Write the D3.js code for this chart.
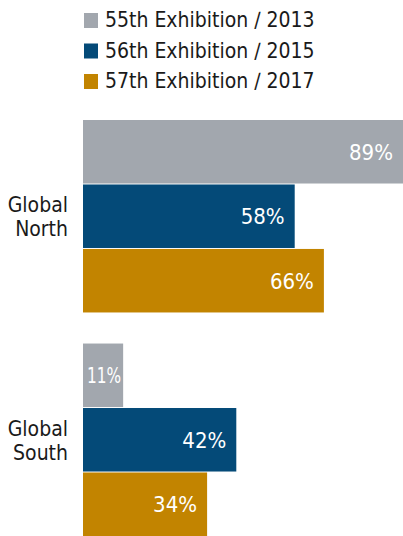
<!DOCTYPE html>
<html>
<head>
<meta charset="utf-8">
<script src="https://cdn.jsdelivr.net/npm/d3@7"></script>
<style>
  body { margin: 0; background: #fff; }
  text { font-family: "Liberation Sans Narrow", "DejaVu Sans Condensed", "Noto Sans", sans-serif; }
</style>
</head>
<body>
<div class="chart"></div>
<script>
// chart data
var regions = ["Global North", "Global South"];
var exhibitions = ["55th Exhibition / 2013", "56th Exhibition / 2015", "57th Exhibition / 2017"];
var values2013 = [89, 11];
var values2015 = [58, 42];
var values2017 = [66, 34];
var colors = ["#a2a7ae", "#044a78", "#c28400"];

var seriesValues = [values2013, values2015, values2017];

var svgWidth = 403;
var svgHeight = 536;

var svg = d3.select(".chart")
  .append("svg")
  .attr("width", svgWidth)
  .attr("height", svgHeight);

// x scale - the 89% bar runs off the right edge
var xScale = d3.scaleLinear()
  .domain([0, 100])
  .range([83, 448]);

// outer band per region, inner band per exhibition
var yRegion = d3.scaleBand()
  .domain(regions)
  .range([120, 536])
  .paddingInner(0.139)
  .paddingOuter(0);

var yInner = d3.scaleBand()
  .domain(d3.range(exhibitions.length))
  .range([0, yRegion.bandwidth()])
  .paddingInner(0.015);

// legend
var legend = svg.append("g");
exhibitions.forEach(function (name, i) {
  var row = legend.append("g")
    .attr("transform", `translate(84, ${20 + i * 30.5})`);
  row.append("rect")
    .attr("x", 0)
    .attr("y", -7)
    .attr("width", 14)
    .attr("height", 15)
    .attr("fill", colors[i]);
  row.append("text")
    .attr("x", 21)
    .attr("y", 0)
    .attr("dy", "0.35em")
    .style("font-size", "21px")
    .attr("fill", "#1a1a1a")
    .text(name.replace(" / ", " \u2215 "));
});

// bars
regions.forEach(function (region, r) {
  var g = svg.append("g")
    .attr("transform", `translate(0, ${yRegion(region)})`);

  seriesValues.forEach(function (vals, i) {
    var v = vals[r];
    var x1 = xScale(v);
    var barW = x1 - xScale(0);
    g.append("rect")
      .attr("x", xScale(0))
      .attr("y", yInner(i))
      .attr("width", barW)
      .attr("height", yInner.bandwidth())
      .attr("fill", colors[i]);

    var label = g.append("text")
      .attr("y", yInner(i) + yInner.bandwidth() / 2)
      .attr("dy", "0.36em")
      .style("font-size", "22px")
      .attr("fill", "#fff")
      .text(v + "%");

    var tw = label.node().getComputedTextLength();
    if (tw > barW - 6) {
      // squeeze the label into a short bar
      label.attr("x", (xScale(0) + x1) / 2 + 1)
        .attr("text-anchor", "middle")
        .attr("textLength", barW - 6)
        .attr("lengthAdjust", "spacingAndGlyphs");
    } else {
      label.attr("x", Math.min(x1, svgWidth) - 10).attr("text-anchor", "end");
    }
  });

  // category label, one text per line
  var words = region.split(" ");
  var cy = yRegion.bandwidth() / 2;
  words.forEach(function (w, k) {
    g.append("text")
      .attr("x", 68)
      .attr("y", cy - 4 + k * 24)
      .attr("text-anchor", "end")
      .style("font-size", "21px")
      .attr("fill", "#1a1a1a")
      .text(w);
  });
});
</script>
</body>
</html>
